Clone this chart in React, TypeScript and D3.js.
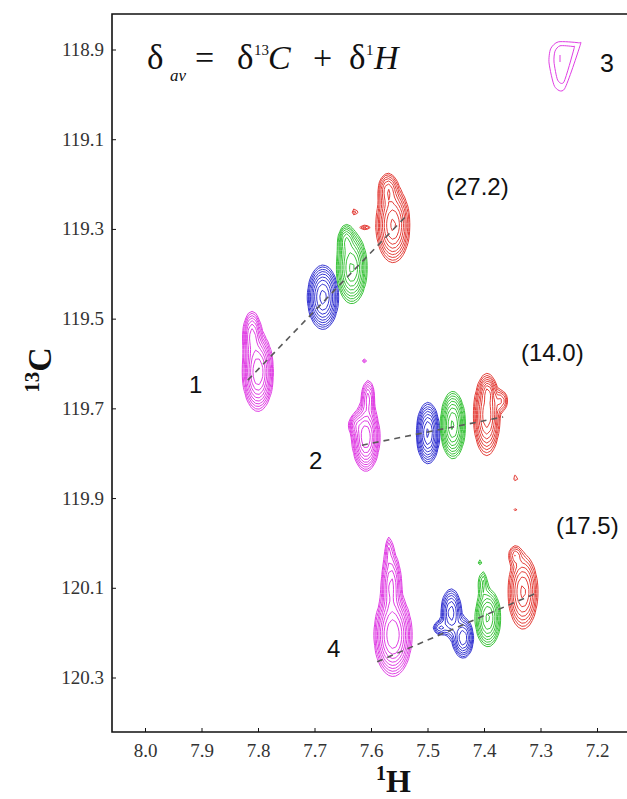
import React, { useMemo } from 'react';
import * as d3 from 'd3';

// Axis ticks (ppm)
const H_TICKS = [8.0, 7.9, 7.8, 7.7, 7.6, 7.5, 7.4, 7.3, 7.2];
const C_TICKS = [118.9, 119.1, 119.3, 119.5, 119.7, 119.9, 120.1, 120.3];

// Cross-peak components per spectrum: [δH, δC, σH, σC, height]
const MAGENTA_PEAKS: number[][] = [
  [7.801, 119.618, 0.0118, 0.038, 1.0],
  [7.8115, 119.535, 0.008, 0.027, 0.45],
  [7.61, 119.763, 0.0106, 0.033, 1.0],
  [7.606, 119.676, 0.006, 0.022, 0.35],
  [7.628, 119.736, 0.007, 0.013, 0.25],
  [7.612, 119.593, 0.004, 0.005, 0.12],
  [7.562, 120.204, 0.0145, 0.04, 1.0],
  [7.565, 120.093, 0.009, 0.038, 0.45],
  [7.569, 120.015, 0.0045, 0.022, 0.15],
];
const BLUE_PEAKS: number[][] = [
  [7.686, 119.451, 0.0122, 0.032, 0.85],
  [7.5, 119.754, 0.0092, 0.031, 0.8],
  [7.459, 120.155, 0.009, 0.027, 0.5],
  [7.438, 120.211, 0.009, 0.022, 0.55],
  [7.479, 120.188, 0.007, 0.009, 0.25],
];
const GREEN_PEAKS: number[][] = [
  [7.635, 119.386, 0.0122, 0.036, 0.8],
  [7.645, 119.324, 0.007, 0.018, 0.35],
  [7.456, 119.736, 0.0099, 0.034, 0.8],
  [7.394, 120.166, 0.0108, 0.031, 0.6],
  [7.403, 120.088, 0.005, 0.018, 0.18],
  [7.408, 120.041, 0.004, 0.005, 0.12],
];
const RED_PEAKS: number[][] = [
  [7.562, 119.29, 0.0135, 0.038, 0.8],
  [7.571, 119.212, 0.009, 0.02, 0.35],
  [7.629, 119.261, 0.0035, 0.007, 0.15],
  [7.612, 119.295, 0.007, 0.004, 0.15],
  [7.396, 119.714, 0.0108, 0.042, 0.7],
  [7.394, 119.662, 0.006, 0.015, 0.35],
  [7.37, 119.682, 0.007, 0.014, 0.22],
  [7.344, 119.854, 0.0035, 0.007, 0.13],
  [7.344, 119.925, 0.0035, 0.0045, 0.11],
  [7.332, 120.108, 0.0126, 0.04, 0.6],
  [7.346, 120.026, 0.007, 0.013, 0.2],
];

const SERIES = [
  { key: 'm', color: '#e03ee4', peaks: MAGENTA_PEAKS },
  { key: 'b', color: '#3636d2', peaks: BLUE_PEAKS },
  { key: 'g', color: '#3cc43c', peaks: GREEN_PEAKS },
  { key: 'r', color: '#e4403a', peaks: RED_PEAKS },
];

// Contour levels (fraction of the strongest peak)
const LEVELS = [0.07, 0.095, 0.13, 0.175, 0.235, 0.315, 0.42, 0.56, 0.75];

// Linear fits through each residue's peaks: [δH1, δC1, δH2, δC2]
const FIT_LINES: number[][] = [
  [7.819, 119.636, 7.537, 119.268],
  [7.617, 119.781, 7.367, 119.718],
  [7.59, 120.264, 7.307, 120.11],
];
const GROUP_LABELS = ['1', '2', '4'];
const SLOPE_LABELS = ['(27.2)', '(14.0)', '(17.5)'];
const LEGEND_LABEL = '3';

const W = 627;
const H = 799;
const FRAME = { left: 112, top: 14, bottom: 732, right: 660 };

const x = d3.scaleLinear().domain([8.0, 7.2]).range([145.5, 597.5]);
const y = d3.scaleLinear().domain([118.9, 120.3]).range([50, 678]);

const H_MAX = x.invert(FRAME.left);
const H_MIN = x.invert(W);
const C_MIN = y.invert(FRAME.top);
const C_MAX = y.invert(FRAME.bottom);
// spectral digital resolution
const DH = 0.0062;
const DC = 0.0085;

function buildContours(peaks: number[][]) {
  const nx = Math.ceil((H_MAX - H_MIN) / DH);
  const ny = Math.ceil((C_MAX - C_MIN) / DC);
  const values = new Float64Array(nx * ny);
  for (const [h0, c0, sh, sc, a] of peaks) {
    const i0 = Math.max(0, Math.floor((H_MAX - h0 - 5 * sh) / DH));
    const i1 = Math.min(nx - 1, Math.ceil((H_MAX - h0 + 5 * sh) / DH));
    const j0 = Math.max(0, Math.floor((c0 - 5 * sc - C_MIN) / DC));
    const j1 = Math.min(ny - 1, Math.ceil((c0 + 5 * sc - C_MIN) / DC));
    for (let j = j0; j <= j1; j++) {
      const c = C_MIN + j * DC;
      const dc = (c - c0) / sc;
      for (let i = i0; i <= i1; i++) {
        const h = H_MAX - i * DH;
        const dh = (h - h0) / sh;
        values[i + j * nx] += a * Math.exp(-0.5 * (dh * dh + dc * dc));
      }
    }
  }
  const polys = d3.contours().size([nx, ny]).thresholds(LEVELS)(Array.from(values));
  const proj = d3.geoTransform({
    point(gx: number, gy: number) {
      (this as any).stream.point(x(H_MAX - (gx - 0.5) * DH), y(C_MIN + (gy - 0.5) * DC));
    },
  });
  const path = d3.geoPath(proj);
  return polys.map((p) => path(p as any) || '');
}

// Legend glyph outline in unit coordinates
const GLYPH = [
  [0.05, 0.15], [0.3, 0.0], [0.95, 0.02], [1.0, 0.08], [0.5, 1.0], [0.18, 0.95], [0.0, 0.45],
];

export default function App() {
  const contourPaths = useMemo(
    () => SERIES.map((s) => ({ ...s, paths: buildContours(s.peaks) })),
    []
  );
  const glyphLine = d3.line().curve(d3.curveCardinalClosed.tension(0.3));
  const glyphRing = (cx: number, cy: number, w: number, h: number) =>
    glyphLine(GLYPH.map(([u, v]) => [cx + (u - 0.45) * w, cy + (v - 0.45) * h]) as [number, number][]) || '';

  const serif = '"Liberation Serif", "Times New Roman", serif';
  const sans = '"Liberation Sans", Arial, sans-serif';

  return (
    <svg
      width={W}
      height={H}
      style={{ position: 'absolute', left: 0, top: 0, background: '#fff' }}
    >
      <defs>
        <clipPath id="plotArea">
          <rect x={FRAME.left} y={FRAME.top} width={W - FRAME.left} height={FRAME.bottom - FRAME.top} />
        </clipPath>
      </defs>

      {/* contour maps */}
      <g clipPath="url(#plotArea)" fill="none" strokeWidth={1} strokeLinejoin="round">
        {contourPaths.map((s) => (
          <g key={s.key} stroke={s.color}>
            {s.paths.map((d, i) => (
              <path key={i} d={d} />
            ))}
          </g>
        ))}
      </g>

      {/* fit lines */}
      <g stroke="#5a5a5a" strokeWidth={1.6} strokeDasharray="6,5">
        {FIT_LINES.map(([h1, c1, h2, c2], i) => (
          <line key={i} x1={x(h1)} y1={y(c1)} x2={x(h2)} y2={y(c2)} />
        ))}
      </g>

      {/* frame */}
      <path
        d={`M${FRAME.right},${FRAME.top}H${FRAME.left}V${FRAME.bottom}H${FRAME.right}`}
        fill="none"
        stroke="#111"
        strokeWidth={1.6}
      />

      {/* x ticks */}
      <g fontFamily={serif} fontSize={19} fill="#333" textAnchor="middle">
        {H_TICKS.map((t) => (
          <g key={t}>
            <line x1={x(t)} x2={x(t)} y1={FRAME.bottom} y2={FRAME.bottom - 4} stroke="#111" strokeWidth={1} />
            <text x={x(t)} y={757}>{t.toFixed(1)}</text>
          </g>
        ))}
      </g>

      {/* y ticks */}
      <g fontFamily={serif} fontSize={19} fill="#333" textAnchor="end">
        {C_TICKS.map((t) => (
          <g key={t}>
            <line x1={FRAME.left} x2={FRAME.left + 4} y1={y(t)} y2={y(t)} stroke="#111" strokeWidth={1} />
            <text x={104} y={y(t) + 6}>{t.toFixed(1)}</text>
          </g>
        ))}
      </g>

      {/* axis titles */}
      <text x={376} y={792} fontFamily={serif} fontWeight="bold" fill="#111">
        <tspan fontSize={20} dy={-12}>1</tspan>
        <tspan fontSize={32} dy={12}>H</tspan>
      </text>
      <text
        transform="translate(51,370) rotate(-90)"
        textAnchor="middle"
        fontFamily={serif}
        fontWeight="bold"
        fill="#111"
      >
        <tspan fontSize={21} dy={-12}>13</tspan>
        <tspan fontSize={34} dy={12}>C</tspan>
      </text>

      {/* equation */}
      <g fontFamily={serif} fill="#111">
        <text x={147} y={69} fontSize={35}>δ</text>
        <text x={170} y={81} fontSize={17} fontStyle="italic">av</text>
        <text x={195} y={69} fontSize={34}>=</text>
        <text x={237} y={69} fontSize={35}>δ</text>
        <text x={254} y={55} fontSize={15}>13</text>
        <text x={268} y={69} fontSize={34} fontStyle="italic">C</text>
        <text x={313} y={69} fontSize={34}>+</text>
        <text x={349} y={69} fontSize={35}>δ</text>
        <text x={366} y={55} fontSize={15}>1</text>
        <text x={374} y={69} fontSize={34} fontStyle="italic">H</text>
      </g>

      {/* legend */}
      <g fill="none" stroke="#e03ee4" strokeWidth={1}>
        <path d={glyphRing(563, 63, 31, 47)} />
        <path d={glyphRing(563, 62, 20, 36)} />
        <line x1={560} y1={55} x2={560} y2={62} />
      </g>
      <text x={600} y={72} fontFamily={sans} fontSize={25} fill="#111">{LEGEND_LABEL}</text>

      {/* residue labels */}
      <g fontFamily={sans} fontSize={24} fill="#111">
        <text x={189} y={393}>{GROUP_LABELS[0]}</text>
        <text x={309} y={469}>{GROUP_LABELS[1]}</text>
        <text x={327} y={657}>{GROUP_LABELS[2]}</text>
        <text x={446} y={195}>{SLOPE_LABELS[0]}</text>
        <text x={521} y={361}>{SLOPE_LABELS[1]}</text>
        <text x={556} y={534}>{SLOPE_LABELS[2]}</text>
      </g>
    </svg>
  );
}
